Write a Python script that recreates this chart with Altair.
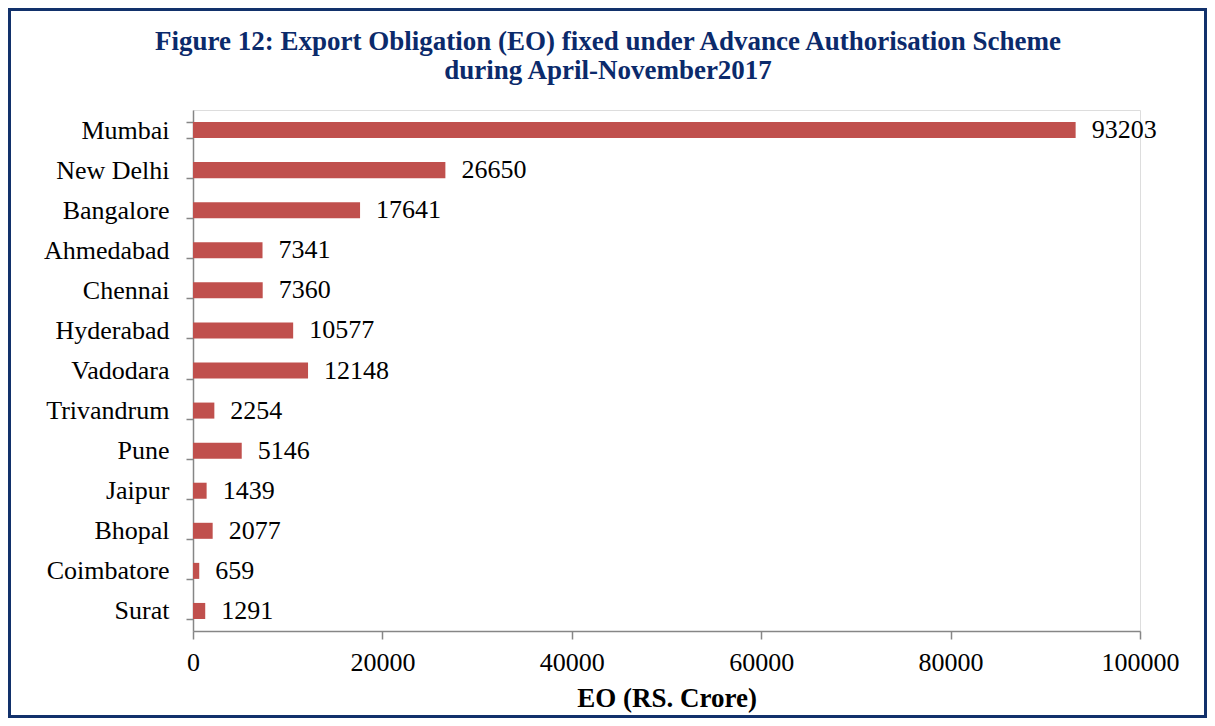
import altair as alt
import pandas as pd

cities = ["Mumbai", "New Delhi", "Bangalore", "Ahmedabad", "Chennai", "Hyderabad",
          "Vadodara", "Trivandrum", "Pune", "Jaipur", "Bhopal", "Coimbatore", "Surat"]
values = [93203, 26650, 17641, 7341, 7360, 10577, 12148, 2254, 5146, 1439, 2077, 659, 1291]
x_ticks = [0, 20000, 40000, 60000, 80000, 100000]

title_lines = ["Figure 12: Export Obligation (EO) fixed under Advance Authorisation Scheme",
               "during April-November2017"]
x_title = "EO (RS. Crore)"

df = pd.DataFrame({"city": cities, "eo": values})

W, H = 947, 521
PL, PT, PR, PB = 185, 102, 67, 87
FONT = "Liberation Serif"
AX = "#868686"
NAVY = "#0b2a6b"

y_enc = alt.Y("city:N", sort=cities, title=None,
              scale=alt.Scale(paddingInner=0.6, paddingOuter=0.3),
              axis=alt.Axis(tickBand="extent", tickSize=7, tickColor=AX, domainColor=AX,
                            domainWidth=1.5, tickWidth=1.5, labelFont=FONT, labelFontSize=26,
                            labelColor="black", labelPadding=17, labelLimit=300))
x_enc = alt.X("eo:Q", title=x_title,
              scale=alt.Scale(domain=[0, 100000], nice=False),
              axis=alt.Axis(values=x_ticks, format="d", tickSize=8, tickColor=AX, domainColor=AX,
                            domainWidth=1.5, tickWidth=1.5, labelFont=FONT, labelFontSize=26,
                            labelColor="black", labelPadding=10, labelFlush=False, grid=False,
                            titleFont=FONT, titleFontSize=27, titleFontWeight="bold",
                            titleColor="black", titlePadding=10))

bars = alt.Chart(df).mark_bar(color="#C0504D").encode(y=y_enc, x=x_enc)
labels = alt.Chart(df).mark_text(align="left", baseline="middle", dx=16, font=FONT,
                                 fontSize=26, color="black").encode(
    y=alt.Y("city:N", sort=cities), x=alt.X("eo:Q"), text=alt.Text("eo:Q", format="d"))

one = alt.Data(values=[{"a": 1}])
border = alt.Chart(one).mark_rect(
    filled=False, stroke="#12316b", strokeWidth=3).encode(
    x=alt.value(-PL + 1.5), x2=alt.value(W + PR - 1.5),
    y=alt.value(-PT + 1.5), y2=alt.value(H + PB - 1.5))

TX = 608 - 8 - PL
title1 = alt.Chart(one).mark_text(font=FONT, fontSize=27, fontWeight="bold", color=NAVY,
                                  align="center", baseline="alphabetic").encode(
    x=alt.value(TX), y=alt.value(50 - 8 - PT), text=alt.value(title_lines[0]))
title2 = alt.Chart(one).mark_text(font=FONT, fontSize=27, fontWeight="bold", color=NAVY,
                                  align="center", baseline="alphabetic").encode(
    x=alt.value(TX), y=alt.value(79 - 8 - PT), text=alt.value(title_lines[1]))

chart = alt.layer(bars, labels, border, title1, title2).properties(
    width=W, height=H,
    autosize=alt.AutoSizeParams(type="none"),
    padding={"left": PL, "top": PT, "right": PR, "bottom": PB},
).configure_view(stroke=None).configure(background="white")

chart.save("out.html", embed_options={"renderer": "svg", "actions": False})
